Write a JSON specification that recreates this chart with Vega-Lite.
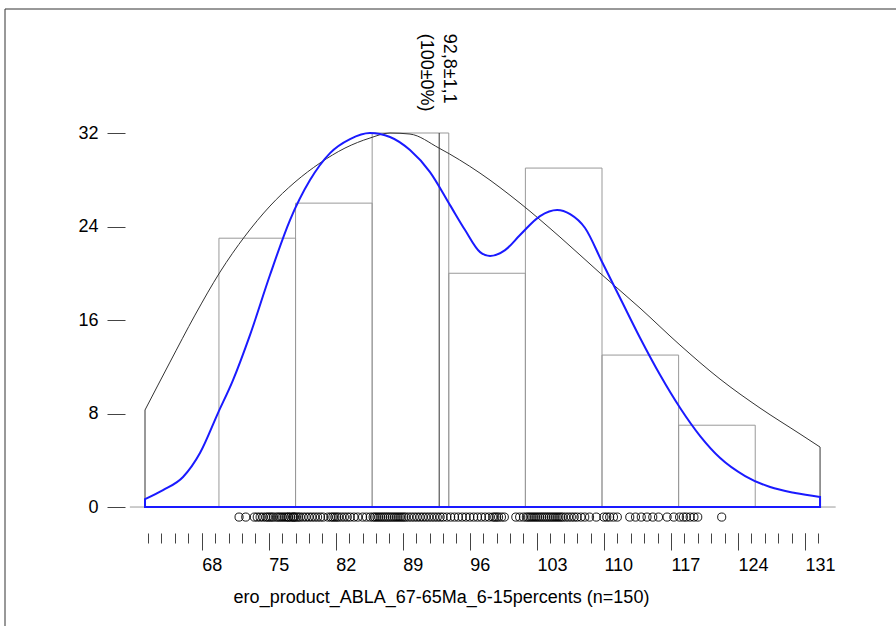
{
  "$schema": "https://vega.github.io/schema/vega-lite/v6.json",
  "autosize": "none",
  "width": 891,
  "height": 617,
  "padding": {"left": 5, "top": 9, "right": 0, "bottom": 0},
  "background": "white",
  "config": {
    "font": "Liberation Sans",
    "view": {"stroke": null},
    "axis": {"grid": false, "domain": false, "labelFont": "Liberation Sans", "titleFont": "Liberation Sans", "labelColor": "black", "titleColor": "black", "tickColor": "#444"}
  },
  "datasets": {
    "bins": [
      {"lo": 69.8, "hi": 77.8, "n": 23},
      {"lo": 77.8, "hi": 85.8, "n": 26},
      {"lo": 85.8, "hi": 93.8, "n": 32},
      {"lo": 93.8, "hi": 101.8, "n": 20},
      {"lo": 101.8, "hi": 109.8, "n": 29},
      {"lo": 109.8, "hi": 117.8, "n": 13},
      {"lo": 117.8, "hi": 125.8, "n": 7}
    ],
    "normal": [
      {"v": 62.08, "d": 8.3}, {"v": 64.69, "d": 12.4}, {"v": 67.3, "d": 16.42}, {"v": 69.91, "d": 20.1},
      {"v": 72.52, "d": 23.18}, {"v": 75.13, "d": 25.75}, {"v": 77.74, "d": 27.8}, {"v": 80.35, "d": 29.43},
      {"v": 82.96, "d": 30.71}, {"v": 85.57, "d": 31.57}, {"v": 87.66, "d": 32.0}, {"v": 89.75, "d": 31.91},
      {"v": 92.78, "d": 30.71}, {"v": 97.06, "d": 28.57}, {"v": 101.24, "d": 26.0}, {"v": 105.41, "d": 23.1},
      {"v": 109.59, "d": 20.02}, {"v": 113.77, "d": 17.02}, {"v": 117.94, "d": 13.86}, {"v": 122.12, "d": 10.95},
      {"v": 126.3, "d": 8.47}, {"v": 130.48, "d": 6.25}, {"v": 132.57, "d": 5.13}
    ],
    "kde": [
      {"v": 62.08, "d": 0.68}, {"v": 63.96, "d": 1.45}, {"v": 66.05, "d": 2.57}, {"v": 67.82, "d": 4.62},
      {"v": 69.7, "d": 8.04}, {"v": 71.27, "d": 10.86}, {"v": 73.04, "d": 14.71}, {"v": 75.13, "d": 19.85},
      {"v": 77.22, "d": 24.55}, {"v": 79.31, "d": 27.97}, {"v": 81.4, "d": 30.28}, {"v": 83.49, "d": 31.48},
      {"v": 85.57, "d": 32.0}, {"v": 87.66, "d": 31.66}, {"v": 89.75, "d": 30.54}, {"v": 91.84, "d": 28.66},
      {"v": 93.93, "d": 25.83}, {"v": 95.5, "d": 23.7}, {"v": 97.07, "d": 21.81}, {"v": 98.11, "d": 21.47},
      {"v": 99.68, "d": 21.98}, {"v": 101.24, "d": 23.27}, {"v": 103.33, "d": 24.89}, {"v": 105.11, "d": 25.41},
      {"v": 106.47, "d": 25.06}, {"v": 108.03, "d": 23.87}, {"v": 109.81, "d": 20.96}, {"v": 111.69, "d": 17.88},
      {"v": 113.78, "d": 14.46}, {"v": 115.87, "d": 11.29}, {"v": 117.96, "d": 8.47}, {"v": 120.05, "d": 6.07},
      {"v": 122.14, "d": 4.19}, {"v": 124.75, "d": 2.65}, {"v": 127.36, "d": 1.71}, {"v": 129.97, "d": 1.2},
      {"v": 132.57, "d": 0.86}
    ],
    "obs": [
      {"x": 71.9}, {"x": 72.6}, {"x": 73.5}, {"x": 73.8}, {"x": 74.1}, {"x": 74.4}, {"x": 74.7}, {"x": 74.9},
      {"x": 75.1}, {"x": 75.3}, {"x": 75.5}, {"x": 75.8}, {"x": 76.0}, {"x": 76.2}, {"x": 76.4}, {"x": 76.6},
      {"x": 76.8}, {"x": 77.0}, {"x": 77.1}, {"x": 77.3}, {"x": 77.5}, {"x": 77.6}, {"x": 77.7},
      {"x": 77.9}, {"x": 78.1}, {"x": 78.3}, {"x": 78.6}, {"x": 78.9}, {"x": 79.2}, {"x": 79.5}, {"x": 79.8},
      {"x": 80.1}, {"x": 80.4}, {"x": 80.7}, {"x": 81.2}, {"x": 81.5}, {"x": 81.7}, {"x": 81.9}, {"x": 82.1},
      {"x": 82.3}, {"x": 82.6}, {"x": 82.9}, {"x": 83.2}, {"x": 83.5}, {"x": 83.9}, {"x": 84.3}, {"x": 84.8},
      {"x": 85.2}, {"x": 85.6},
      {"x": 85.9}, {"x": 86.1}, {"x": 86.3}, {"x": 86.5}, {"x": 86.7}, {"x": 86.9}, {"x": 87.1}, {"x": 87.3},
      {"x": 87.5}, {"x": 87.7}, {"x": 87.9}, {"x": 88.1}, {"x": 88.3}, {"x": 88.5}, {"x": 88.7}, {"x": 88.9},
      {"x": 89.1}, {"x": 89.3}, {"x": 89.6}, {"x": 89.9}, {"x": 90.2}, {"x": 90.5}, {"x": 90.8}, {"x": 91.1},
      {"x": 91.4}, {"x": 91.7}, {"x": 92.0}, {"x": 92.3}, {"x": 92.6}, {"x": 92.9}, {"x": 93.2}, {"x": 93.6},
      {"x": 94.0}, {"x": 94.4}, {"x": 94.8}, {"x": 95.2}, {"x": 95.6}, {"x": 96.0}, {"x": 96.4}, {"x": 96.8},
      {"x": 97.2}, {"x": 97.6}, {"x": 98.0}, {"x": 98.4}, {"x": 98.6}, {"x": 98.8}, {"x": 99.0}, {"x": 99.3},
      {"x": 99.6}, {"x": 100.8}, {"x": 101.2}, {"x": 101.6},
      {"x": 101.9}, {"x": 102.1}, {"x": 102.3}, {"x": 102.5}, {"x": 102.7}, {"x": 102.9}, {"x": 103.1}, {"x": 103.3},
      {"x": 103.5}, {"x": 103.7}, {"x": 103.9}, {"x": 104.1}, {"x": 104.3}, {"x": 104.5}, {"x": 104.7}, {"x": 104.9},
      {"x": 105.1}, {"x": 105.3}, {"x": 105.5}, {"x": 105.7}, {"x": 106.0}, {"x": 106.3}, {"x": 106.6}, {"x": 106.9},
      {"x": 107.2}, {"x": 107.6}, {"x": 108.0}, {"x": 108.5}, {"x": 109.2},
      {"x": 110.0}, {"x": 110.3}, {"x": 110.6}, {"x": 111.0}, {"x": 111.4}, {"x": 112.7}, {"x": 113.3}, {"x": 113.9},
      {"x": 114.5}, {"x": 115.1}, {"x": 115.7}, {"x": 116.6}, {"x": 117.3},
      {"x": 117.9}, {"x": 118.3}, {"x": 118.6}, {"x": 119.0}, {"x": 119.4}, {"x": 119.8}, {"x": 122.3}
    ],
    "stat": [{"m": 92.8, "top": 32, "label": "92,8±1,1\n(100±0%)", "ty": 40.5}],
    "base": [{"a": 60.5, "b": 134.2}],
    "frame": [{"x0": 47.46, "x1": 140.5, "y0": -10.18, "y1": 42.61}]
  },
  "resolve": {"axis": {"x": "independent", "y": "independent"}},
  "layer": [
    {
      "data": {"name": "bins"},
      "mark": {"type": "rect", "fill": "transparent", "stroke": "#999", "strokeWidth": 1},
      "encoding": {
        "x": {"field": "lo", "type": "quantitative", "scale": {"domain": [47.46, 140.5], "nice": false, "zero": false},
          "axis": {"orient": "bottom", "values": [68, 75, 82, 89, 96, 103, 110, 117, 124, 131], "offset": -93, "tickSize": 17, "labelAlign": "left", "labelBaseline": "top", "labelPadding": 6, "labelFontSize": 18, "labelFlush": false, "labelOverlap": false,
            "title": "ero_product_ABLA_67-65Ma_6-15percents (n=150)", "titleFontSize": 18, "titleFontWeight": "normal", "titleX": 436, "titleY": 64, "titleAlign": "center", "titleBaseline": "middle", "titleAnchor": "start"}},
        "x2": {"field": "hi"},
        "y": {"field": "n", "type": "quantitative", "scale": {"domain": [-10.18, 42.61], "nice": false, "zero": false},
          "axis": {"orient": "left", "values": [0, 8, 16, 24, 32], "offset": -120, "tickSize": 18, "labelPadding": 9, "labelFontSize": 18, "title": null, "labelFlush": false}},
        "y2": {"datum": 0}
      }
    },
    {
      "data": {"name": "frame"},
      "mark": {"type": "rule", "color": "#333", "strokeWidth": 1},
      "encoding": {
        "x": {"field": "x0", "type": "quantitative", "axis": null},
        "x2": {"field": "x1"},
        "y": {"field": "y1", "type": "quantitative", "axis": null}
      }
    },
    {
      "data": {"name": "frame"},
      "mark": {"type": "rule", "color": "#333", "strokeWidth": 1},
      "encoding": {
        "x": {"field": "x0", "type": "quantitative", "axis": null},
        "y": {"field": "y0", "type": "quantitative", "axis": null},
        "y2": {"field": "y1"}
      }
    },
    {
      "data": {"name": "base"},
      "mark": {"type": "rule", "color": "#999", "strokeWidth": 1},
      "encoding": {
        "x": {"field": "a", "type": "quantitative", "axis": null},
        "x2": {"field": "b"},
        "y": {"datum": 0, "type": "quantitative", "axis": null}
      }
    },
    {
      "data": {"name": "stat"},
      "mark": {"type": "rule", "color": "#333", "strokeWidth": 1},
      "encoding": {
        "x": {"field": "m", "type": "quantitative", "axis": null},
        "y": {"field": "top", "type": "quantitative", "axis": null},
        "y2": {"datum": 0}
      }
    },
    {
      "data": {"name": "normal"},
      "mark": {"type": "area", "fill": "transparent", "stroke": "#333", "strokeWidth": 1, "interpolate": "monotone"},
      "encoding": {
        "x": {"field": "v", "type": "quantitative", "axis": null},
        "y": {"field": "d", "type": "quantitative", "axis": null}
      }
    },
    {
      "data": {"name": "kde"},
      "mark": {"type": "area", "fill": "transparent", "stroke": "#1a1aff", "strokeWidth": 2, "interpolate": "monotone"},
      "encoding": {
        "x": {"field": "v", "type": "quantitative", "axis": null},
        "y": {"field": "d", "type": "quantitative", "axis": null}
      }
    },
    {
      "data": {"name": "obs"},
      "mark": {"type": "point", "shape": "circle", "filled": false, "stroke": "black", "strokeWidth": 0.9, "size": 66, "opacity": 1},
      "encoding": {
        "x": {"field": "x", "type": "quantitative",
          "axis": {"orient": "bottom", "values": [62.4, 63.8, 65.2, 66.6, 68, 69.4, 70.8, 72.2, 73.6, 75, 76.4, 77.8, 79.2, 80.6, 82, 83.4, 84.8, 86.2, 87.6, 89, 90.4, 91.8, 93.2, 94.6, 96, 97.4, 98.8, 100.2, 101.6, 103, 104.4, 105.8, 107.2, 108.6, 110, 111.4, 112.8, 114.2, 115.6, 117, 118.4, 119.8, 121.2, 122.6, 124, 125.4, 126.8, 128.2, 129.6, 131, 132.4], "offset": -93, "tickSize": 10, "labels": false, "title": null}},
        "y": {"datum": -0.86, "type": "quantitative", "axis": null}
      }
    },
    {
      "data": {"name": "stat"},
      "mark": {"type": "text", "angle": 90, "align": "left", "baseline": "middle", "dy": -10, "fontSize": 18, "lineHeight": 23, "color": "black", "lineBreak": "\n"},
      "encoding": {
        "x": {"field": "m", "type": "quantitative", "axis": null},
        "y": {"field": "ty", "type": "quantitative", "axis": null},
        "text": {"field": "label"}
      }
    }
  ]
}
